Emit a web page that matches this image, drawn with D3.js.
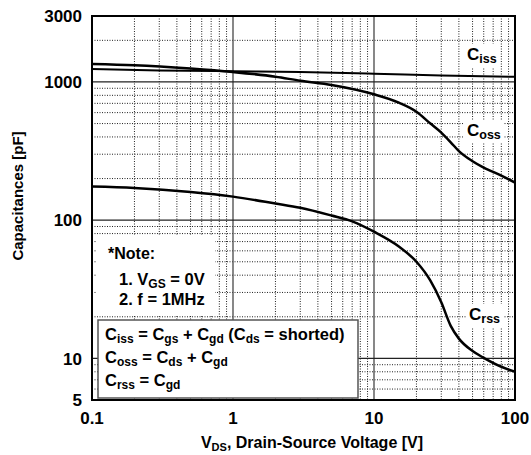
<!DOCTYPE html>
<html>
<head>
<meta charset="utf-8">
<script src="https://cdn.jsdelivr.net/npm/d3@7"></script>
<style>
  body { margin: 0; background: #fff; }
  svg text { font-family: "Liberation Sans", Arial, sans-serif; font-weight: bold; white-space: pre; }
</style>
</head>
<body>
<div id="chart"></div>
<script>
// values (log-log)
const xTicks = [0.1, 1, 10, 100];
const yTicks = [5, 10, 100, 1000, 3000];

const cissV = [0.1, 0.3, 1, 3, 10, 30, 100];
const cissC = [1240, 1212, 1195, 1178, 1148, 1115, 1090];

const cossV = [0.1, 0.2, 0.5, 1, 2, 3, 5, 10, 15, 20, 25, 30, 35, 40, 50, 60, 80, 100];
const cossC = [1350, 1322, 1250, 1180, 1091, 1021, 951, 814, 708, 609, 502, 430, 366, 316, 267, 240, 210, 187];

const crssV = [0.1, 0.2, 0.5, 1, 2, 3, 5, 7, 10, 15, 20, 25, 30, 35, 40, 50, 60, 80, 100];
const crssC = [175, 171, 160, 148, 132, 123, 108, 98, 82.5, 64.5, 50, 36.8, 25.5, 17.2, 13.9, 11.3, 10.1, 8.7, 8.0];

const width = 531, height = 455;
const margin = {top: 16, right: 16, bottom: 55, left: 92};

const svg = d3.select("#chart").append("svg")
  .attr("width", width)
  .attr("height", height);

const x = d3.scaleLog()
  .domain([0.1, 100])
  .range([margin.left, width - margin.right]);

const y = d3.scaleLog()
  .domain([5, 3000])
  .range([height - margin.bottom, margin.top]);

const isMajor = v => Math.abs(Math.log10(v) - Math.round(Math.log10(v))) < 1e-6;

// minor dotted grid
const grid = svg.append("g");
grid.selectAll("line.vminor")
  .data(x.ticks().filter(d => !isMajor(d)))
  .join("line")
    .attr("x1", d => x(d)).attr("x2", d => x(d))
    .attr("y1", y.range()[1]).attr("y2", y.range()[0])
    .attr("stroke", "#222")
    .attr("stroke-dasharray", "1,1.5");
grid.selectAll("line.hminor")
  .data(y.ticks().filter(d => !isMajor(d) && d > 5 && d < 3000))
  .join("line")
    .attr("y1", d => y(d)).attr("y2", d => y(d))
    .attr("x1", x.range()[0]).attr("x2", x.range()[1])
    .attr("stroke", "#222")
    .attr("stroke-dasharray", "1,1.5");

// major solid grid
grid.selectAll("line.vmajor")
  .data(xTicks.slice(1, -1))
  .join("line")
    .attr("x1", d => x(d)).attr("x2", d => x(d))
    .attr("y1", y.range()[1]).attr("y2", y.range()[0])
    .attr("stroke", "#555")
    .attr("stroke-width", 1.4);
grid.selectAll("line.hmajor")
  .data(yTicks.slice(1, -1))
  .join("line")
    .attr("y1", d => y(d)).attr("y2", d => y(d))
    .attr("x1", x.range()[0]).attr("x2", x.range()[1])
    .attr("stroke", "#222")
    .attr("stroke-width", 1.2);

// text with subscripts: parts = [[text, isSub], ...]
function richText(g, px, py, parts, size, subSize, anchor) {
  const t = g.append("text")
    .attr("x", px).attr("y", py)
    .attr("font-size", size)
    .attr("text-anchor", anchor || "start");
  let shift = 0;
  parts.forEach(p => {
    const target = p[1] ? Math.round(size * 0.2) : 0;
    t.append("tspan")
      .attr("dy", target - shift)
      .attr("font-size", p[1] ? subSize : size)
      .text(p[0]);
    shift = target;
  });
  return t;
}

// note block (white, covers grid)
svg.append("rect")
  .attr("x", 97).attr("y", 236).attr("width", 118).attr("height", 79)
  .attr("fill", "#fff");
richText(svg, 108, 259, [["*Note:", 0]], 16, 11);
richText(svg, 119, 285, [["1. V", 0], ["GS", 1], [" = 0V", 0]], 16.5, 12);
richText(svg, 119, 305, [["2. f = 1MHz", 0]], 16.5, 12);

// definition box
svg.append("rect")
  .attr("x", 98).attr("y", 320).attr("width", 260).attr("height", 78)
  .attr("fill", "#fff")
  .attr("stroke", "#555")
  .attr("stroke-width", 1.5);
richText(svg, 105, 340, [["C", 0], ["iss", 1], [" = C", 0], ["gs", 1], [" + C", 0], ["gd", 1], [" (C", 0], ["ds", 1], [" = shorted)", 0]], 16.5, 12);
richText(svg, 105, 363, [["C", 0], ["oss", 1], [" = C", 0], ["ds", 1], [" + C", 0], ["gd", 1]], 16.5, 12);
richText(svg, 105, 386, [["C", 0], ["rss", 1], [" = C", 0], ["gd", 1]], 16.5, 12);

// curves
const line = d3.line()
  .x(d => x(d[0]))
  .y(d => y(d[1]))
  .curve(d3.curveMonotoneX);

const series = [
  {v: cissV, c: cissC, w: 2},
  {v: cossV, c: cossC, w: 2.5},
  {v: crssV, c: crssC, w: 2.5}
];
svg.append("g")
  .selectAll("path")
  .data(series)
  .join("path")
    .attr("fill", "none")
    .attr("stroke", "#000")
    .attr("stroke-width", d => d.w)
    .attr("d", d => line(d3.zip(d.v, d.c)));

// curve labels with white backing
const curveLabels = [
  {x: 467, y: 60, sub: "iss"},
  {x: 467, y: 136, sub: "oss"},
  {x: 469, y: 320, sub: "rss"}
];
curveLabels.forEach(l => {
  const g = svg.append("g");
  const t = richText(g, l.x, l.y, [["C", 0], [l.sub, 1]], 17, 12.5);
  const b = t.node().getBBox();
  g.insert("rect", "text")
    .attr("x", b.x - 3).attr("y", b.y - 1)
    .attr("width", b.width + 6).attr("height", b.height + 2)
    .attr("fill", "#fff");
});

// frame
svg.append("rect")
  .attr("x", x.range()[0]).attr("y", y.range()[1])
  .attr("width", x.range()[1] - x.range()[0])
  .attr("height", y.range()[0] - y.range()[1])
  .attr("fill", "none")
  .attr("stroke", "#000")
  .attr("stroke-width", 2);

// tick labels
svg.append("g")
  .selectAll("text")
  .data(yTicks)
  .join("text")
    .attr("x", margin.left - 10)
    .attr("y", d => y(d))
    .attr("dy", "0.36em")
    .attr("text-anchor", "end")
    .attr("font-size", 17)
    .text(d => d);

svg.append("g")
  .selectAll("text")
  .data(xTicks)
  .join("text")
    .attr("x", d => x(d))
    .attr("y", 424)
    .attr("text-anchor", "middle")
    .attr("font-size", 17)
    .text(d => d);

// axis titles
richText(svg, 312, 448, [["V", 0], ["DS", 1], [", Drain-Source Voltage [V]", 0]], 16, 11, "middle");

svg.append("text")
  .attr("transform", "translate(23,196) rotate(-90)")
  .attr("text-anchor", "middle")
  .attr("font-size", 15)
  .text("Capacitances [pF]");
</script>
</body>
</html>
